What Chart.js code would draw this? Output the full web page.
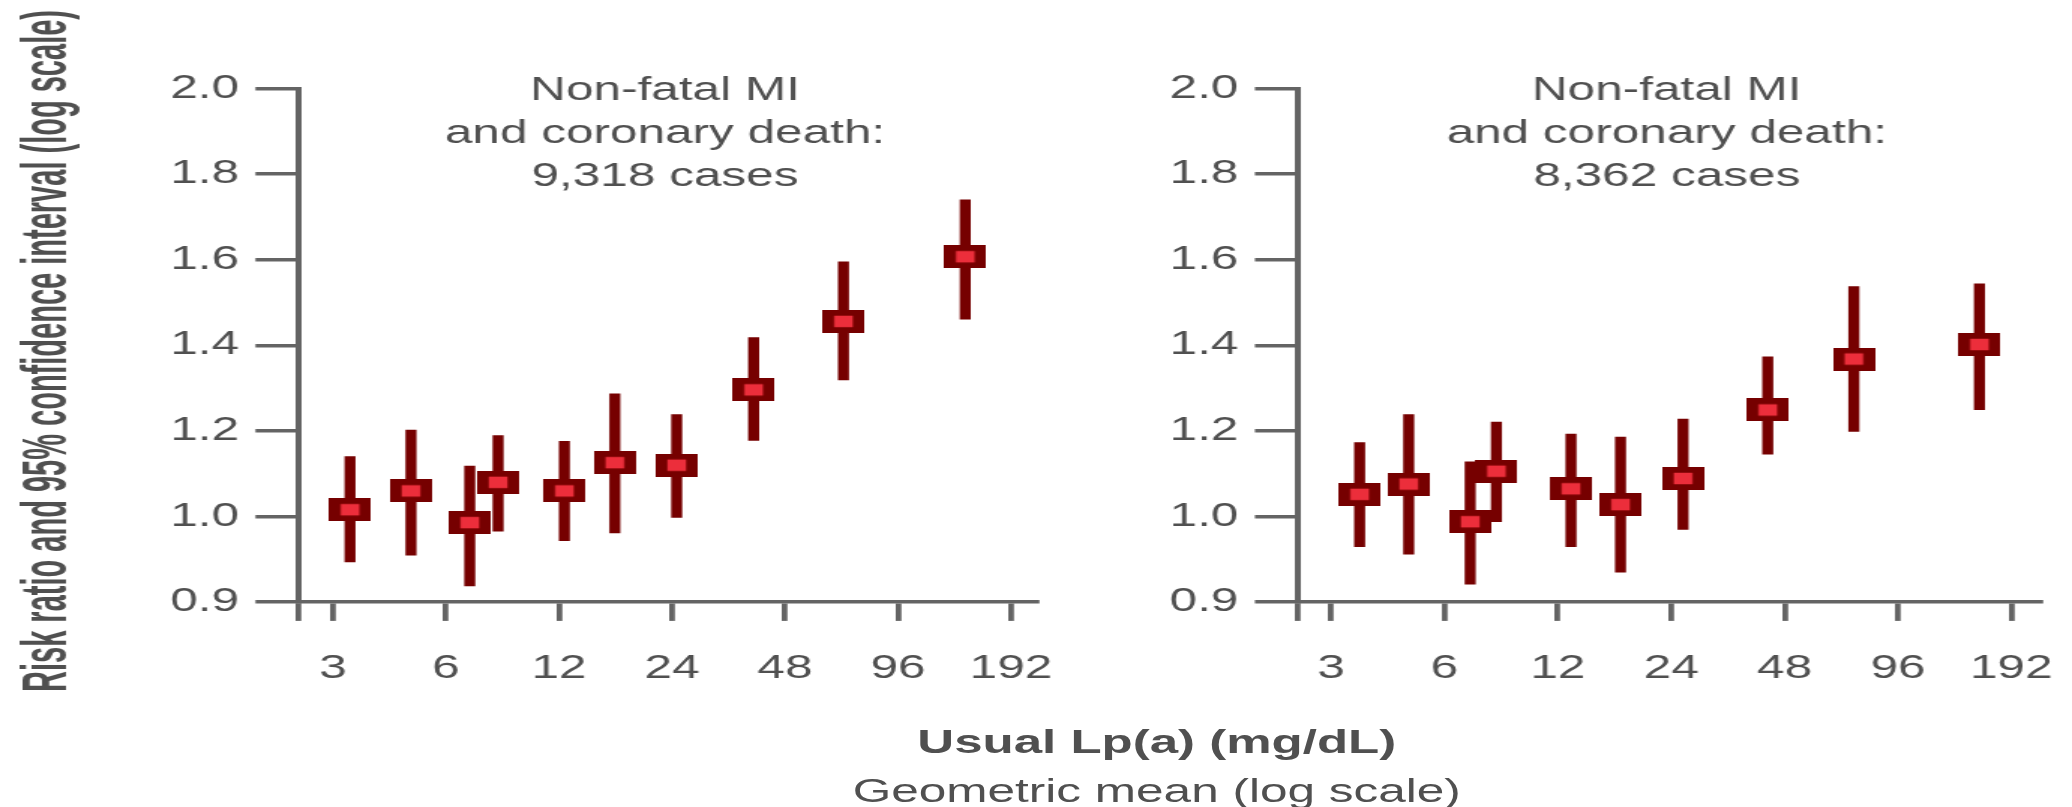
<!DOCTYPE html>
<html>
<head>
<meta charset="utf-8">
<script src="https://cdn.jsdelivr.net/npm/chart.js"></script>
<style>
  html, body { margin: 0; padding: 0; width: 2072px; height: 807px; overflow: hidden; background: #ffffff; }
  /* the whole figure is laid out narrow and widened horizontally */
  #stage { position: absolute; left: 0; top: 0; width: 1381px; height: 807px; transform-origin: 0 0; transform: scaleX(1.50036); }
  #leftPanel { position: absolute; left: 0; top: 0; }
  #rightPanel { position: absolute; left: 740px; top: 0; }
  .xtitle { position: absolute; left: 371px; width: 800px; text-align: center; color: #505050;
            font-family: 'Liberation Sans', Arial, Helvetica, sans-serif; white-space: nowrap; }
  #xTitleMain { top: 724px; font-size: 34px; line-height: 34px; font-weight: bold; }
  #xTitleSub { top: 774px; font-size: 33px; line-height: 33px; }
</style>
</head>
<body>
<div id="stage">
  <canvas id="leftPanel" width="740" height="807"></canvas>
  <canvas id="rightPanel" width="700" height="807"></canvas>
  <div class="xtitle" id="xTitleMain">Usual Lp(a) (mg/dL)</div>
  <div class="xtitle" id="xTitleSub">Geometric mean (log scale)</div>
</div>
<script>
// ---- axis ticks ----
const xTickValues = [3, 6, 12, 24, 48, 96, 192];
const yTickValues = [0.9, 1.0, 1.2, 1.4, 1.6, 1.8, 2.0];
const yAxisTitle = 'Risk ratio and 95% confidence interval (log scale)';

// ---- left panel: 9,318 cases ----
const leftTitle = ['Non-fatal MI', 'and coronary death:', '9,318 cases'];
const leftLpa  = [3.33, 4.84, 6.94, 8.26, 12.4, 16.9, 24.7, 39.6, 68.7, 145];
const leftRR   = [1.016, 1.060, 0.993, 1.080, 1.060, 1.126, 1.120, 1.296, 1.456, 1.607];
const leftLow  = [0.947, 0.955, 0.919, 0.983, 0.972, 0.981, 0.999, 1.178, 1.319, 1.461];
const leftHigh = [1.140, 1.202, 1.118, 1.189, 1.176, 1.287, 1.238, 1.418, 1.595, 1.740];

// ---- right panel: 8,362 cases ----
const rightTitle = ['Non-fatal MI', 'and coronary death:', '8,362 cases'];
const rightLpa  = [3.57, 4.82, 7.02, 8.24, 13.0, 17.6, 25.8, 43.3, 73.3, 158];
const rightRR   = [1.052, 1.076, 0.994, 1.106, 1.065, 1.028, 1.089, 1.249, 1.368, 1.402];
const rightLow  = [0.965, 0.956, 0.921, 0.994, 0.965, 0.935, 0.985, 1.146, 1.199, 1.250];
const rightHigh = [1.173, 1.238, 1.128, 1.221, 1.193, 1.186, 1.228, 1.373, 1.537, 1.544];

// ---- styling ----
const DARK = '#760000';
const RED = '#ec2e3b';
const INK = '#505050';
const AXIS = '#646464';
const FONT = "'Liberation Sans', Arial, Helvetica, sans-serif";

// Axis whose labelled stops are evenly spaced; values in between are interpolated.
const BaseLinear = Chart.LinearScale || Chart.registry.getScale('linear');
class StopScale extends BaseLinear {
  static id = 'stops';
  static defaults = {};
  _stops() { return this.options.stops || yTickValues; }
  determineDataLimits() {
    const s = this._stops();
    this.min = s[0];
    this.max = s[s.length - 1];
  }
  buildTicks() {
    const s = this._stops();
    this.min = s[0];
    this.max = s[s.length - 1];
    return s.map(v => ({ value: v }));
  }
  _toIndex(v) {
    const s = this._stops();
    const n = s.length;
    if (v <= s[0]) return (v - s[0]) / (s[1] - s[0]);
    for (let i = 1; i < n; i++) {
      if (v <= s[i]) return i - 1 + (v - s[i - 1]) / (s[i] - s[i - 1]);
    }
    return n - 1 + (v - s[n - 1]) / (s[n - 1] - s[n - 2]);
  }
  getPixelForValue(v) {
    if (v === null || v === undefined || isNaN(v)) return NaN;
    const n = this._stops().length;
    return this.getPixelForDecimal(this._toIndex(v) / (n - 1));
  }
  getValueForPixel(p) {
    const s = this._stops();
    const n = s.length;
    const t = this.getDecimalForPixel(p) * (n - 1);
    const i = Math.max(0, Math.min(n - 2, Math.floor(t)));
    return s[i] + (t - i) * (s[i + 1] - s[i]);
  }
}
Chart.register(StopScale);

// Estimate marker: dark frame with a bright centre.
function makeBox(w, h, bx, by) {
  const c = document.createElement('canvas');
  c.width = w;
  c.height = h;
  const g = c.getContext('2d');
  g.fillStyle = DARK;
  g.fillRect(0, 0, w, h);
  g.fillStyle = RED;
  g.fillRect(bx, by, w - 2 * bx, h - 2 * by);
  return c;
}
const boxMarker = makeBox(28, 23, 7.75, 5.75);

function titlePlugin(lines) {
  return {
    id: 'panelTitle',
    afterDraw(chart) {
      const { ctx, chartArea } = chart;
      const cx = (chartArea.left + chartArea.right) / 2 - 1.5;
      ctx.save();
      ctx.fillStyle = INK;
      ctx.font = '33px ' + FONT;
      ctx.textAlign = 'center';
      ctx.textBaseline = 'alphabetic';
      lines.forEach((t, i) => ctx.fillText(t, cx, 100 + i * 42.8));
      ctx.restore();
    }
  };
}

const yTitlePlugin = {
  id: 'yTitle',
  afterDraw(chart) {
    const ctx = chart.ctx;
    ctx.save();
    ctx.font = 'bold 43px ' + FONT;
    const w = ctx.measureText(yAxisTitle).width;
    ctx.translate(44, 351);
    ctx.rotate(-Math.PI / 2);
    ctx.scale(682 / w, 1);
    ctx.fillStyle = INK;
    ctx.textAlign = 'center';
    ctx.textBaseline = 'alphabetic';
    ctx.fillText(yAxisTitle, 0, 0);
    ctx.restore();
  }
};

function panelChart(id, p) {
  const canvas = document.getElementById(id);
  return new Chart(canvas, {
    type: 'scatter',
    data: {
      datasets: [
        {
          type: 'scatter',
          label: 'Risk ratio',
          data: p.lpa.map((x, i) => ({ x: x, y: p.rr[i] })),
          pointStyle: boxMarker,
          pointRadius: 3,
          pointHoverRadius: 3,
          order: 0
        },
        {
          type: 'bar',
          label: '95% CI',
          data: p.lpa.map((x, i) => ({ x: x, y: [p.low[i], p.high[i]] })),
          backgroundColor: DARK,
          borderWidth: 0,
          barThickness: 6.7,
          order: 1
        }
      ]
    },
    options: {
      responsive: false,
      animation: false,
      devicePixelRatio: 1,
      events: [],
      layout: { padding: { left: 0, right: p.padRight, top: 88.5, bottom: 84.8 } },
      plugins: { legend: { display: false }, tooltip: { enabled: false }, title: { display: false } },
      scales: {
        x: {
          type: 'logarithmic',
          min: p.xMin,
          max: p.xMax,
          bounds: 'data',
          offset: false,
          afterBuildTicks: s => { s.ticks = [p.xMin].concat(xTickValues).map(v => ({ value: v })); },
          afterFit: s => { s.height = 120; },
          grid: { offset: false, drawOnChartArea: false, drawTicks: true, tickLength: 18.7, lineWidth: 3.8, color: AXIS },
          border: { display: true, width: 3.5, color: AXIS },
          ticks: {
            autoSkip: false, maxRotation: 0, minRotation: 0, padding: 28,
            color: INK, font: { family: FONT, size: 33 },
            callback: v => (xTickValues.includes(v) ? String(v) : '')
          }
        },
        y: {
          type: 'stops',
          stops: yTickValues,
          afterFit: s => { s.width = p.axisWidth; },
          grid: { offset: false, drawOnChartArea: false, drawTicks: true, tickLength: 28.7, lineWidth: 3.5, color: AXIS },
          border: { display: true, width: 4, color: AXIS },
          ticks: {
            padding: 11, color: INK, font: { family: FONT, size: 33 },
            callback: v => Number(v).toFixed(1)
          }
        }
      }
    },
    plugins: p.extraPlugins
  });
}

panelChart('leftPanel', {
  lpa: leftLpa, rr: leftRR, low: leftLow, high: leftHigh,
  xMin: 2.428, xMax: 223.8,
  axisWidth: 198.95, padRight: 49.5,
  extraPlugins: [titlePlugin(leftTitle), yTitlePlugin]
});

panelChart('rightPanel', {
  lpa: rightLpa, rr: rightRR, low: rightLow, high: rightHigh,
  xMin: 2.449, xMax: 228.9,
  axisWidth: 125.1, padRight: 80.3,
  extraPlugins: [titlePlugin(rightTitle)]
});
</script>
</body>
</html>
